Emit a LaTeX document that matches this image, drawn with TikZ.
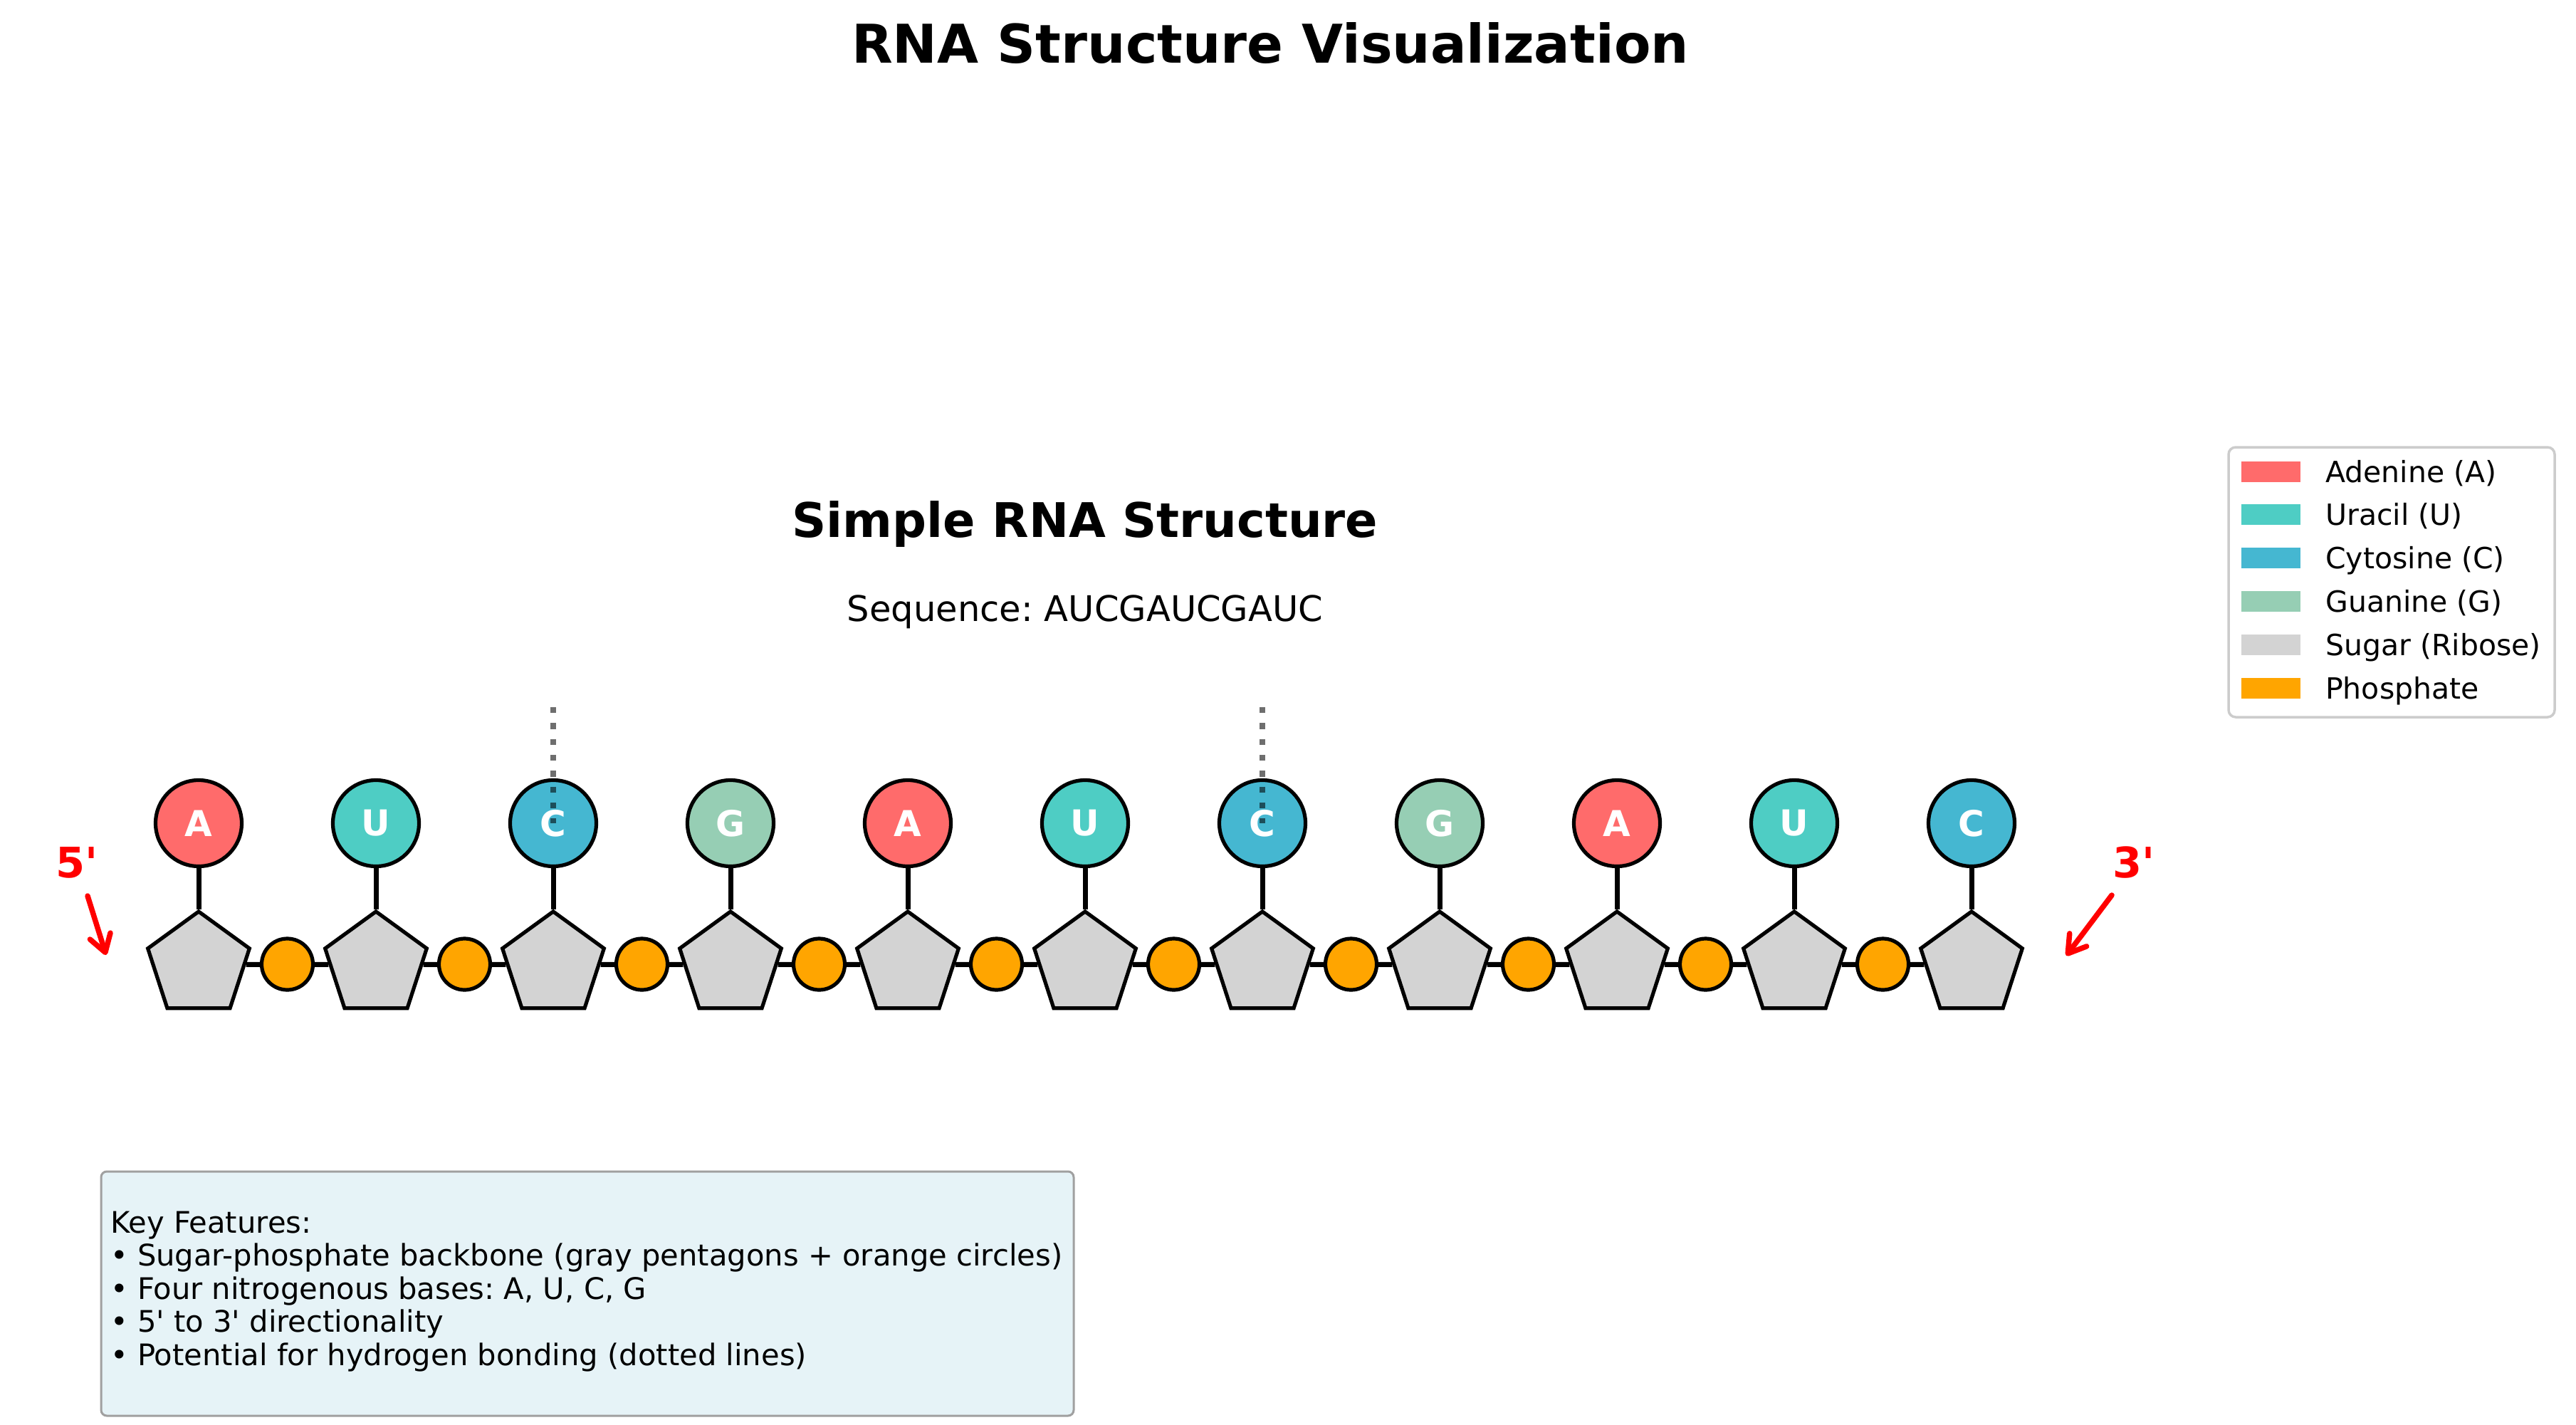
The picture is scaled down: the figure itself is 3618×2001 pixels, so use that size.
\documentclass[tikz,border=0pt]{standalone}
\usepackage{fontspec}
\setmainfont{DejaVu Sans}
\frenchspacing
\usetikzlibrary{shapes.geometric,arrows.meta}
\definecolor{adenine}{HTML}{FF6B6B}
\definecolor{uracil}{HTML}{4ECDC4}
\definecolor{cytosine}{HTML}{45B7D1}
\definecolor{guanine}{HTML}{96CEB4}
\definecolor{sugarc}{HTML}{D3D3D3}
\definecolor{phosc}{HTML}{FFA500}
\definecolor{keyfill}{RGB}{230,243,247}
\definecolor{keyborder}{HTML}{A0A0A0}
\definecolor{legborder}{HTML}{CCCCCC}
\begin{document}
\begin{tikzpicture}[x=1pt,y=-1pt,
  base/.style={circle, draw=black, line width=5.2pt, minimum size=121pt, inner sep=0pt, text=white, font=\fontsize{50}{60}\selectfont\bfseries},
  sugar/.style={regular polygon, regular polygon sides=5, draw=black, line width=5.2pt, fill=sugarc, minimum size=150pt, inner sep=0pt},
  phos/.style={circle, draw=black, line width=5.2pt, fill=phosc, minimum size=72pt, inner sep=0pt},
  bond/.style={line width=7pt, black},
  hbond/.style={line width=8.3pt, black, opacity=0.57, dash pattern=on 8.3pt off 14pt},
  dirarrow/.style={red, line width=7.5pt, line cap=round, -{Straight Barb[length=24pt,width=30pt,line cap=round,line join=round]}},
  endlabel/.style={anchor=base, text=red, font=\fontsize{59}{70}\selectfont\bfseries, inner sep=0pt},
  swatch/.style={rectangle, minimum width=83pt, minimum height=29pt, inner sep=0pt, draw=none},
  legtext/.style={anchor=base west, inner sep=0pt, font=\fontsize{41}{49}\selectfont},
  keytext/.style={anchor=base west, inner sep=0pt, font=\fontsize{41.7}{50}\selectfont},
]
\useasboundingbox (0,0) rectangle (3618,2001);

% titles
\node[anchor=base, inner sep=0pt, font=\fontsize{75}{90}\selectfont\bfseries] (title) at (1784,89) {RNA Structure Visualization};
\node[anchor=base, inner sep=0pt, font=\fontsize{67}{80}\selectfont\bfseries] (subtitle) at (1524,754) {Simple RNA Structure};
\node[anchor=base, inner sep=0pt, font=\fontsize{49.6}{60}\selectfont] (seq) at (1524,872) {Sequence: AUCGAUCGAUC};

% nucleotides
\foreach \i/\l/\c in {0/A/adenine,1/U/uracil,2/C/cytosine,3/G/guanine,4/A/adenine,5/U/uracil,6/C/cytosine,7/G/guanine,8/A/adenine,9/U/uracil,10/C/cytosine}{
  \node[sugar] (s\i) at (279+249*\i,1355) {};
  \node[base, fill=\c] (b\i) at (279+249*\i,1156) {\l};
  \draw[bond] (b\i) -- (s\i);
}
\foreach \i in {0,...,9}{
  \pgfmathtruncatemacro{\j}{\i+1}
  \node[phos] (p\i) at (403.5+249*\i,1354) {};
  \draw[bond] (s\i) -- (p\i);
  \draw[bond] (p\i) -- (s\j);
}

% hydrogen bonding hints
\coordinate (h2) at (777,993);
\coordinate (h6) at (1773,993);
\draw[hbond] (h2) -- (b2.center);
\draw[hbond] (h6) -- (b6.center);

% direction labels
\node[endlabel] (five) at (108,1232) {5\textquotesingle};
\node[endlabel] (three) at (2997,1232) {3\textquotesingle};
\coordinate (a5s) at (123,1258);
\coordinate (a5e) at (149,1341);
\coordinate (a3s) at (2966,1257);
\coordinate (a3e) at (2902,1342);
\draw[dirarrow] (a5s) -- (a5e);
\draw[dirarrow] (a3s) -- (a3e);

% legend
\node[rectangle, rounded corners=10pt, draw=legborder, line width=3.5pt, fill=white, minimum width=458pt, minimum height=379pt, inner sep=0pt] (legend) at (3359,817.5) {};
\foreach \k/\c/\t in {0/adenine/Adenine (A),1/uracil/Uracil (U),2/cytosine/Cytosine (C),3/guanine/Guanine (G),4/sugarc/Sugar (Ribose),5/phosc/Phosphate}{
  \node[swatch, fill=\c] (sw\k) at (3189.5,662+60.9*\k) {};
  \node[legtext] (lt\k) at (3266,677+60.9*\k) {\t};
}

% key features box
\node[rectangle, rounded corners=8pt, draw=keyborder, line width=3pt, fill=keyfill, minimum width=1366pt, minimum height=343pt, inner sep=0pt] (keybox) at (825,1816.5) {};
\node[keytext] (k0) at (155,1731) {Key Features:};
\node[keytext] (k1) at (155,1777.5) {• Sugar-phosphate backbone (gray pentagons + orange circles)};
\node[keytext] (k2) at (155,1824) {• Four nitrogenous bases: A, U, C, G};
\node[keytext] (k3) at (155,1870.5) {• 5\textquotesingle{} to 3\textquotesingle{} directionality};
\node[keytext] (k4) at (155,1917) {• Potential for hydrogen bonding (dotted lines)};
\end{tikzpicture}
\end{document}
